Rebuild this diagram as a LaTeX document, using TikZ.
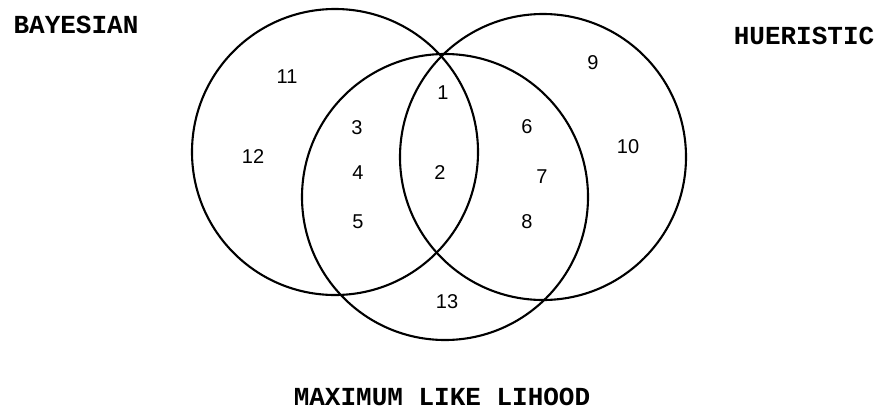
\documentclass[tikz,border=0pt]{standalone}
\usepackage{fontspec}
\usepackage{tikz}
\newfontfamily\labelfont{Liberation Mono}
\newfontfamily\numfont{Liberation Sans}

\begin{document}
\begin{tikzpicture}[
x=1pt, y=-1pt,
set/.style={draw, circle, line width=2.1pt, minimum size=286pt, inner sep=0pt},
title/.style={font=\labelfont\bfseries\fontsize{26}{28}\selectfont},
num/.style={font=\numfont\fontsize{20}{22}\selectfont}
]
\useasboundingbox (0,0) rectangle (880,410);
\node[set] (bayes) at (335,152) {};
\node[set] (heur) at (543,157) {};
\node[set] (maxlik) at (445,197) {};
\node[title] (bayeslbl) at (76,25) {BAYESIAN};
\node[title] (heurlbl) at (804,36) {HUERISTIC};
\node[title] (maxliklbl) at (442,397) {MAXIMUM LIKE LIHOOD};
\node[num] (r1) at (443,93) {1};
\node[num] (r2) at (440,173) {2};
\node[num] (r3) at (357,128) {3};
\node[num] (r4) at (358,173) {4};
\node[num] (r5) at (358,222) {5};
\node[num] (r6) at (527,127) {6};
\node[num] (r7) at (542,177) {7};
\node[num] (r8) at (527,222) {8};
\node[num] (r9) at (593,63) {9};
\node[num] (r10) at (628,147) {10};
\node[num] (r11) at (287,77) {11};
\node[num] (r12) at (253,157) {12};
\node[num] (r13) at (447,302) {13};
\end{tikzpicture}
\end{document}
